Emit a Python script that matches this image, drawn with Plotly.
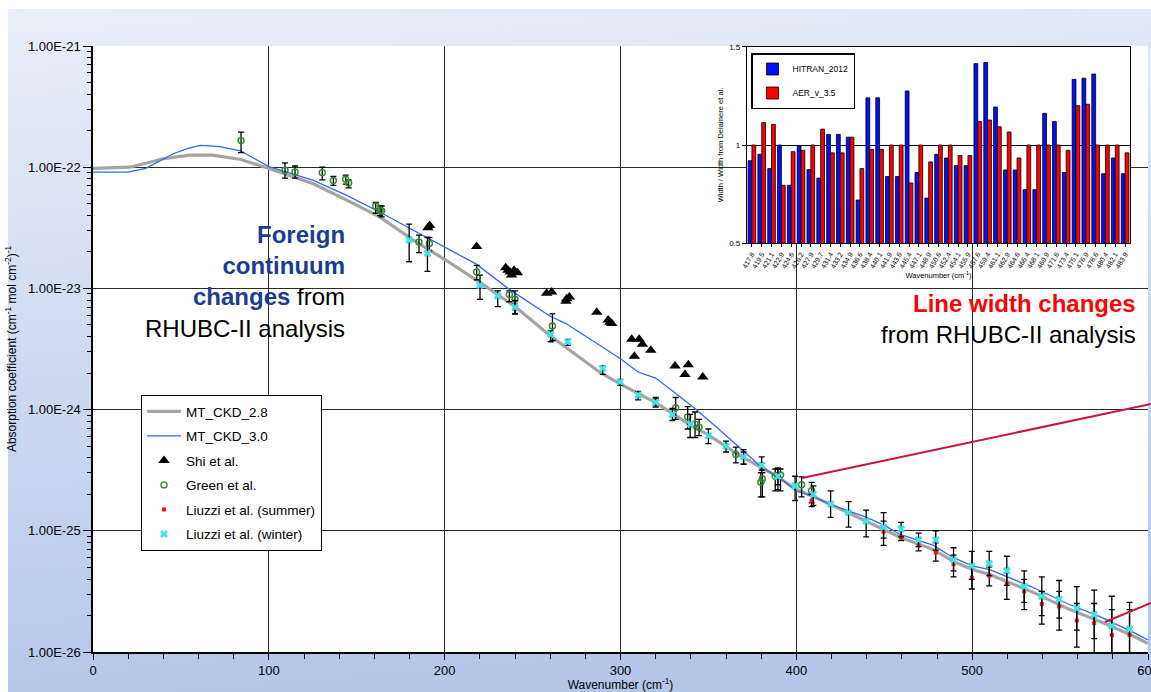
import base64
import numpy as np
import plotly.graph_objects as go

# ---------------- main chart data (values read as log10 of absorption coefficient) ----------------
mtckd28_wn = [0, 21, 40, 55, 68, 84, 100, 125, 144, 163, 182, 201, 220, 240, 260, 288, 300, 321, 341, 349,
              368, 389, 400, 410, 425, 440, 450, 460, 478, 489, 500, 510, 520, 535, 554, 573, 592, 600]
mtckd28_log = [-22.01, -22.00, -21.93, -21.90, -21.90, -21.936, -22.01, -22.135, -22.27, -22.41, -22.60, -22.77,
               -22.95, -23.15, -23.39, -23.69, -23.79, -23.95, -24.14, -24.20, -24.38, -24.55, -24.66, -24.72,
               -24.82, -24.92, -24.99, -25.06, -25.155, -25.25, -25.32, -25.36, -25.42, -25.51, -25.64, -25.75,
               -25.87, -25.93]

mtckd30_wn = [0, 20, 30, 38, 46, 54, 61, 72, 84, 92, 100, 125, 144, 163, 182, 201, 218, 237, 260, 269, 300,
              310, 320, 330, 343, 355, 368, 379, 391, 400, 410, 419, 440, 450, 459, 478, 489, 500, 510, 520,
              535, 554, 573, 592, 600]
mtckd30_log = [-22.04, -22.04, -22.01, -21.95, -21.887, -21.845, -21.82, -21.83, -21.865, -21.93, -21.995,
               -22.107, -22.23, -22.37, -22.52, -22.67, -22.80, -23.01, -23.23, -23.29, -23.58, -23.69, -23.74,
               -23.85, -24.00, -24.15, -24.32, -24.46, -24.57, -24.67, -24.72, -24.78, -24.89, -24.955, -25.03,
               -25.12, -25.22, -25.29, -25.32, -25.38, -25.47, -25.60, -25.71, -25.84, -25.90]

shi_wn = [190.5, 191.5, 218.2, 234.7, 237.2, 239.5, 241.4, 238.0, 236.0, 258.0, 260.9, 269.4, 270.9, 269.0,
          286.5, 293.0, 295.0, 294.0, 306.4, 310.6, 312.5, 307.9, 317.2, 331.0, 338.6, 336.7, 346.8]
shi_log = [-22.50, -22.48, -22.655, -22.83, -22.865, -22.85, -22.87, -22.89, -22.85, -23.04, -23.03, -23.085,
           -23.07, -23.105, -23.196, -23.26, -23.29, -23.28, -23.42, -23.42, -23.46, -23.56, -23.51, -23.64,
           -23.63, -23.71, -23.73]

green_wn = [84.2, 109.2, 114.9, 130.4, 136.7, 143.7, 145.4, 160.8, 163.3, 164.2, 185.4, 191.3, 218.2, 236.8,
            240.0, 261.3, 331.4, 338.2, 342.4, 344.7, 365.6, 379.8, 380.7, 388.0, 391.0, 403.0, 408.7]
green_log = [-21.78, -22.025, -22.04, -22.045, -22.11, -22.10, -22.13, -22.32, -22.355, -22.36, -22.617, -22.63,
             -22.865, -23.05, -23.09, -23.31, -23.985, -24.06, -24.12, -24.146, -24.37, -24.60, -24.57, -24.55,
             -24.54, -24.62, -24.67]
green_lo = [-21.88, -22.09, -22.09, -22.105, -22.15, -22.14, -22.17, -22.38, -22.40, -22.41, -22.705, -22.69,
            -22.93, -23.11, -23.14, -23.43, -24.08, -24.16, -24.23, -24.215, -24.44, -24.72, -24.72, -24.67,
            -24.67, -24.72, -24.77]
green_hi = [-21.71, -21.965, -21.99, -22.00, -22.075, -22.065, -22.105, -22.29, -22.32, -22.32, -22.56, -22.58,
            -22.81, -23.02, -23.02, -23.21, -23.90, -23.975, -24.02, -24.08, -24.31, -24.52, -24.52, -24.49,
            -24.49, -24.555, -24.60]

summer_wn = [240.0, 320.0, 370.0, 380.3, 389.5, 408.7, 449.6, 459.6, 469.5, 479.3, 489.4, 499.8, 509.7, 519.7,
             529.6, 539.6, 549.5, 559.5, 569.4, 579.4, 589.5]
summer_log = [-23.17, -23.93, -24.40, -24.49, -24.53, -24.75, -25.006, -25.055, -25.12, -25.18, -25.275, -25.386,
              -25.37, -25.44, -25.50, -25.605, -25.625, -25.74, -25.76, -25.86, -25.86]
summer_lo = [-23.21, -23.97, -24.45, -24.52, -24.62, -24.80, -25.12, -25.08, -25.165, -25.25, -25.38, -25.48,
             -25.455, -25.565, -25.65, -25.77, -25.82, -25.96, -26.085, -26.23, -26.32]
summer_hi = [-23.13, -23.90, -24.35, -24.44, -24.49, -24.70, -24.92, -25.00, -25.06, -25.10, -25.20, -25.30,
             -25.30, -25.35, -25.40, -25.50, -25.50, -25.60, -25.60, -25.65, -25.65]

winter_wn = [179.8, 190.2, 220.1, 230.2, 240.0, 260.3, 270.0, 289.9, 299.8, 310.0, 320.0, 329.5, 339.6, 350.0,
             360.0, 370.0, 380.3, 389.5, 399.3, 409.7, 419.5, 429.7, 439.7, 449.6, 459.6, 469.5, 479.3, 489.4,
             499.8, 509.7, 519.7, 529.6, 539.6, 549.5, 559.5, 569.4, 579.4, 589.5]
winter_log = [-22.60, -22.71, -22.975, -23.06, -23.155, -23.38, -23.44, -23.66, -23.77, -23.88, -23.94, -24.04,
              -24.12, -24.215, -24.30, -24.39, -24.46, -24.55, -24.63, -24.70, -24.78, -24.85, -24.92, -24.97,
              -24.985, -25.075, -25.075, -25.24, -25.29, -25.27, -25.33, -25.46, -25.54, -25.565, -25.64, -25.69,
              -25.785, -25.81]
winter_lo = [-22.78, -22.86, -23.09, -23.15, -23.21, -23.44, -23.47, -23.71, -23.80, -23.92, -23.98, -24.09,
             -24.23, -24.28, -24.35, -24.45, -24.50, -24.66, -24.75, -24.79, -24.89, -24.97, -25.05, -25.06,
             -25.05, -25.13, -25.16, -25.33, -25.40, -25.37, -25.45, -25.59, -25.70, -25.72, -25.82, -25.89,
             -26.03, -26.03]
winter_hi = [-22.47, -22.58, -22.89, -23.02, -23.10, -23.35, -23.42, -23.64, -23.75, -23.85, -23.91, -23.99,
             -24.04, -24.16, -24.26, -24.33, -24.39, -24.48, -24.55, -24.63, -24.67, -24.76, -24.83, -24.85,
             -24.93, -25.02, -25.00, -25.14, -25.17, -25.17, -25.21, -25.33, -25.38, -25.41, -25.46, -25.49,
             -25.54, -25.59]

y_tick_vals = [1e-26, 1e-25, 1e-24, 1e-23, 1e-22, 1e-21]
y_tick_text = ["1.00E-26", "1.00E-25", "1.00E-24", "1.00E-23", "1.00E-22", "1.00E-21"]
x_tick_vals = [0, 100, 200, 300, 400, 500, 600]
x_tick_text = ["0", "100", "200", "300", "400", "500", "600"]

# ---------------- inset data ----------------
inset_labels = ["417.8", "419.5", "421.1", "422.9", "424.6", "426.2", "427.9", "429.7", "431.4", "433.2",
                "434.9", "436.6", "438.4", "440.1", "441.9", "443.6", "445.4", "447.1", "448.9", "450.6",
                "452.4", "454.1", "455.9", "457.6", "459.4", "461.1", "462.9", "464.6", "466.4", "468.1",
                "469.9", "471.6", "473.4", "475.1", "476.9", "478.6", "480.4", "482.1", "483.9"]
hitran_2012 = [0.92, 0.953, 0.88, 1.0, 0.795, 0.997, 0.875, 0.832, 1.054, 1.054, 1.04, 0.72, 1.24, 1.24, 0.84,
               0.84, 1.275, 0.86, 0.73, 0.953, 0.934, 0.895, 0.895, 1.414, 1.42, 1.193, 0.873, 0.873, 0.773,
               0.773, 1.161, 1.12, 0.86, 1.334, 1.34, 1.361, 0.854, 0.934, 0.854]
aer_v35 = [1.0, 1.114, 1.105, 0.795, 0.966, 0.973, 1.0, 1.081, 0.96, 0.96, 1.04, 0.88, 0.978, 0.978, 1.0, 1.0,
           0.807, 1.0, 0.914, 1.0, 1.0, 0.947, 0.947, 1.12, 1.127, 1.093, 1.066, 0.934, 1.0, 1.0, 1.0, 1.0,
           0.973, 1.2, 1.207, 1.0, 1.0, 1.0, 0.96]


def lin(a):
    return 10.0 ** np.asarray(a, dtype=float)


def err(vals, lo, hi):
    v, l, h = lin(vals), lin(lo), lin(hi)
    return dict(type="data", symmetric=False, array=h - v, arrayminus=v - l,
                color="black", thickness=1.3, width=3)


FONT = "Liberation Sans, Arial, sans-serif"
fig = go.Figure()

fig.add_trace(go.Scatter(x=mtckd28_wn, y=lin(mtckd28_log), mode="lines", name="MT_CKD_2.8",
                         legendgroup="a", line=dict(color="#a4a4a4", width=3.2)))
fig.add_trace(go.Scatter(x=mtckd30_wn, y=lin(mtckd30_log), mode="lines", name="MT_CKD_3.0",
                         legendgroup="b", line=dict(color="#3069f5", width=1.3)))
fig.add_trace(go.Scatter(x=shi_wn, y=lin(shi_log), mode="markers", name="Shi et al.", legendgroup="c",
                         marker=dict(symbol="triangle-up", size=10, color="black")))
fig.add_trace(go.Scatter(x=green_wn, y=lin(green_log), mode="markers", name="Green et al.", legendgroup="d",
                         cliponaxis=False,
                         marker=dict(symbol="circle-open", size=6, color="#2f8a2f", line=dict(width=1.4)),
                         error_y=err(green_log, green_lo, green_hi)))
fig.add_trace(go.Scatter(x=summer_wn, y=lin(summer_log), mode="markers", name="Liuzzi et al. (summer)",
                         legendgroup="e", cliponaxis=False,
                         marker=dict(symbol="square", size=4, color="#ff1010"),
                         error_y=err(summer_log, summer_lo, summer_hi)))
fig.add_trace(go.Scatter(x=winter_wn, y=lin(winter_log), mode="markers", name="Liuzzi et al. (winter)",
                         legendgroup="f", cliponaxis=False,
                         marker=dict(symbol="x", size=7, color="#3fe3e6"),
                         error_y=err(winter_log, winter_lo, winter_hi)))

fig.add_trace(go.Bar(x=inset_labels, y=hitran_2012, name="HITRAN_2012", xaxis="x2", yaxis="y2",
                     legend="legend2", legendgroup="g",
                     marker=dict(color="#0010ff", line=dict(color="black", width=0.8))))
fig.add_trace(go.Bar(x=inset_labels, y=aer_v35, name="AER_v_3.5", xaxis="x2", yaxis="y2",
                     legend="legend2", legendgroup="h",
                     marker=dict(color="#ff0000", line=dict(color="black", width=0.8))))

# background gradient
svg = ('<svg xmlns="http://www.w3.org/2000/svg" width="100" height="100" preserveAspectRatio="none">'
       '<defs><linearGradient id="g" x1="0" y1="0" x2="0.15" y2="1">'
       '<stop offset="0" stop-color="#e9eef8"/><stop offset="0.5" stop-color="#d0dbf0"/>'
       '<stop offset="1" stop-color="#b5c6e8"/></linearGradient></defs>'
       '<rect width="100" height="100" fill="url(#g)"/></svg>')
src = "data:image/svg+xml;base64," + base64.b64encode(svg.encode()).decode()

W, H, L, B = 1055.0, 606.0, 93.0, 40.0


def px(x):
    return (x - L) / W


def py(y):
    return (652.0 - y) / H


minor_y = [k * 10.0 ** e for e in range(-26, -21) for k in range(2, 10)]

fig.update_layout(
    width=1151, height=692,
    margin=dict(l=93, r=3, t=46, b=40, autoexpand=False),
    paper_bgcolor="white", plot_bgcolor="white",
    font=dict(family=FONT, color="black"),
    showlegend=True,
    barmode="group", bargap=0.22, bargroupgap=0.0,
    images=[dict(source=src, xref="paper", yref="paper", x=px(8), y=py(9), sizex=(1151 - 8) / W,
                 sizey=(692 - 9) / H, xanchor="left", yanchor="top", sizing="stretch", layer="below")],
    shapes=[
        dict(type="rect", xref="x domain", yref="y domain", x0=0, x1=1, y0=0, y1=1,
             fillcolor="white", line=dict(width=0), layer="below"),
        dict(type="line", xref="paper", yref="paper", x0=px(802), y0=py(478), x1=px(1151), y1=py(404),
             line=dict(color="#c8163c", width=2)),
        dict(type="line", xref="paper", yref="paper", x0=px(1105), y0=py(622), x1=px(1151), y1=py(603),
             line=dict(color="#c8163c", width=2)),
    ],
    xaxis=dict(domain=[0, 1], range=[0, 600], tickvals=x_tick_vals, ticktext=x_tick_text,
               ticks="outside", ticklen=6, automargin=False,
               tickcolor="black", showgrid=True, gridcolor="#2a2a2a", gridwidth=1.3, zeroline=False,
               showline=True, linecolor="black", linewidth=1.5, tickfont=dict(size=13),
               ticklabeloverflow="allow",
               minor=dict(dtick=20, ticks="outside", ticklen=5, tickcolor="black", showgrid=False),
               title=dict(text="Wavenumber (cm<sup>-1</sup>)", font=dict(size=12), standoff=4)),
    yaxis=dict(domain=[0, 1], type="log", range=[-26, -21], tickvals=y_tick_vals, ticktext=y_tick_text,
               ticks="outside", ticklen=8, tickcolor="black", showgrid=True, gridcolor="#2a2a2a",
               gridwidth=1.3, zeroline=False, showline=True, linecolor="black", linewidth=1.5,
               tickfont=dict(size=13), automargin=False,
               minor=dict(tickvals=minor_y, ticks="outside", ticklen=4, tickcolor="black", showgrid=False),
               title=dict(text="Absorption coefficient (cm<sup>-1</sup> mol cm<sup>-2</sup>)<sup>-1</sup>",
                          font=dict(size=12), standoff=9)),
    xaxis2=dict(domain=[px(747), px(1130)], anchor="y2", type="category", tickangle=-60,
                tickfont=dict(size=7), ticks="outside", ticklen=3, tickcolor="black", showgrid=False,
                showline=True, mirror=True, linecolor="black", linewidth=1.2,
                title=dict(text="Wavenumber (cm<sup>-1</sup>)", font=dict(size=7.5), standoff=2)),
    yaxis2=dict(domain=[py(243.3), py(46.7)], anchor="x2", range=[0.5, 1.5], tickvals=[0.5, 1, 1.5],
                ticktext=["0.5", "1", "1.5"], ticks="outside", ticklen=4, tickcolor="black",
                showgrid=True, gridcolor="black", gridwidth=1, zeroline=False, showline=True, mirror=True,
                linecolor="black", linewidth=1.2, tickfont=dict(size=8),
                title=dict(text="Width / Width from Delamere et al.", font=dict(size=7.5), standoff=4)),
    legend=dict(x=px(141), y=py(395), xanchor="left", yanchor="top", bgcolor="white",
                bordercolor="black", borderwidth=1, font=dict(size=13.5, family=FONT),
                tracegroupgap=4, itemwidth=34),
    legend2=dict(x=px(751), y=py(53), xanchor="left", yanchor="top", bgcolor="white",
                 bordercolor="black", borderwidth=1.5, font=dict(size=8.5, family=FONT),
                 tracegroupgap=5, itemwidth=30),
    annotations=[
        dict(xref="paper", yref="paper", x=px(347), y=py(281.5), xanchor="right", yanchor="middle",
             align="right", showarrow=False, font=dict(size=24, family=FONT, color="black"),
             text=('<span style="color:#1b3d8f"><b>Foreign</b></span><br>'
                   '<span style="color:#1b3d8f"><b>continuum</b></span><br>'
                   '<span style="color:#1b3d8f"><b>changes</b></span> from<br>RHUBC-II analysis')),
        dict(xref="paper", yref="paper", x=px(1138), y=py(318.5), xanchor="right", yanchor="middle",
             align="right", showarrow=False, font=dict(size=24, family=FONT, color="black"),
             text='<span style="color:#ff0000"><b>Line width changes</b></span><br>from RHUBC-II analysis'),
    ],
)

fig.write_html("out.html")
